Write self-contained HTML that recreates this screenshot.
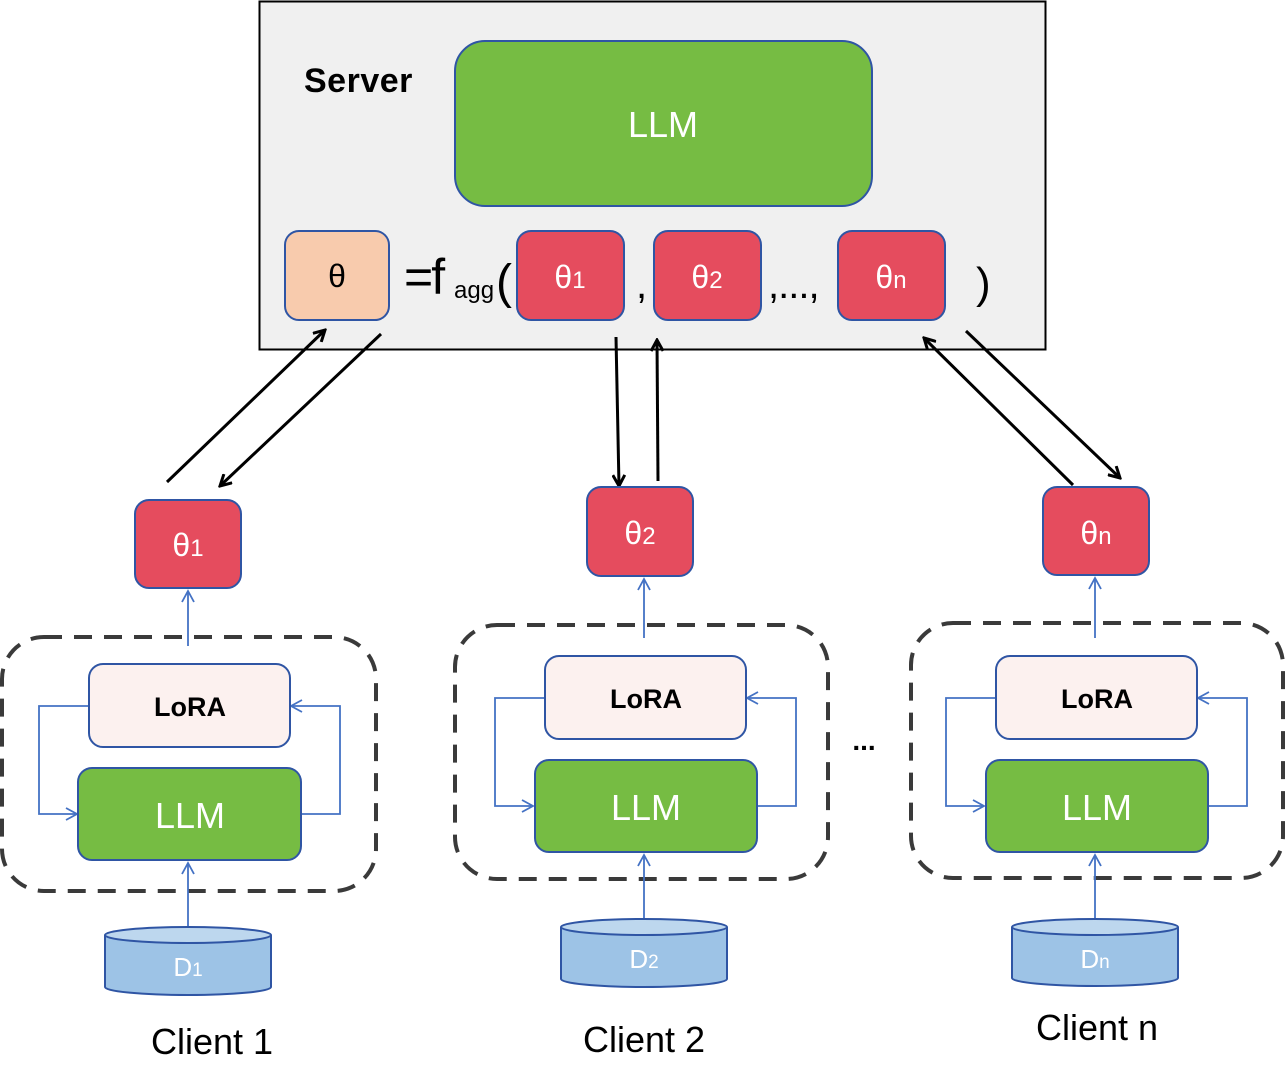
<!DOCTYPE html>
<html><head><meta charset="utf-8"><style>
html,body{margin:0;padding:0;background:#fff;}
svg{display:block;font-family:"Liberation Sans",Arial,sans-serif;}
</style></head><body>
<svg width="1286" height="1073" viewBox="0 0 1286 1073" xmlns="http://www.w3.org/2000/svg">
<defs>
<marker id="ak" markerWidth="14" markerHeight="14" refX="12" refY="7" orient="auto" markerUnits="userSpaceOnUse">
<polyline points="1,1 12,7 1,13" fill="none" stroke="#000" stroke-width="3"/></marker>
<marker id="ab" markerWidth="14" markerHeight="14" refX="12" refY="7" orient="auto" markerUnits="userSpaceOnUse">
<polyline points="1,1 12,7 1,13" fill="none" stroke="#4472c4" stroke-width="1.8"/></marker>
</defs>

<!-- Server -->
<rect x="259.5" y="1.5" width="786" height="348" fill="#f0f0f0" stroke="#000" stroke-width="2"/>
<text x="304" y="92" font-size="34" font-weight="bold" letter-spacing="0.5">Server</text>
<rect x="455" y="41" width="417" height="165" rx="30" fill="#76bc43" stroke="#2f55a4" stroke-width="2"/>
<text x="663" y="137" font-size="36" fill="#fff" text-anchor="middle">LLM</text>

<rect x="285" y="231" width="104" height="89" rx="14" fill="#f8cbad" stroke="#2f55a4" stroke-width="2"/>
<text x="337" y="287" font-size="32" text-anchor="middle">θ</text>
<text x="404" y="294" font-size="50" letter-spacing="-2">=f</text>
<text x="454" y="298" font-size="24">agg</text>
<text x="496" y="298" font-size="48">(</text>
<g fill="#e54c5e" stroke="#2f55a4" stroke-width="2">
<rect x="517" y="231" width="107" height="89" rx="14"/>
<rect x="654" y="231" width="107" height="89" rx="14"/>
<rect x="838" y="231" width="107" height="89" rx="14"/>
</g>
<g fill="#fff" font-size="32" text-anchor="middle">
<text x="570" y="288">θ<tspan font-size="24">1</tspan></text>
<text x="707" y="288">θ<tspan font-size="24">2</tspan></text>
<text x="891" y="288">θ<tspan font-size="24">n</tspan></text>
</g>
<text x="636" y="298" font-size="40">,</text>
<text x="768" y="298" font-size="40" letter-spacing="-1">,...,</text>
<text x="976" y="298" font-size="44">)</text>

<!-- black arrows -->
<g stroke="#000" stroke-width="3">
<line x1="167" y1="482" x2="325" y2="330" marker-end="url(#ak)"/>
<line x1="381" y1="334" x2="220" y2="486" marker-end="url(#ak)"/>
<line x1="616" y1="337" x2="619" y2="486" marker-end="url(#ak)"/>
<line x1="658" y1="481" x2="657" y2="340" marker-end="url(#ak)"/>
<line x1="1073" y1="485" x2="924" y2="338" marker-end="url(#ak)"/>
<line x1="966" y1="331" x2="1120" y2="478" marker-end="url(#ak)"/>
</g>

<!-- Client 1 -->
<g>
<rect x="135" y="500" width="106" height="88" rx="14" fill="#e54c5e" stroke="#2f55a4" stroke-width="2"/>
<text x="188" y="556" font-size="32" fill="#fff" text-anchor="middle">θ<tspan font-size="24">1</tspan></text>
<rect x="2" y="637" width="374" height="254" rx="42" fill="none" stroke="#3a3a3a" stroke-width="4" stroke-dasharray="18,12"/>
<line x1="188" y1="646" x2="188" y2="591" stroke="#4472c4" stroke-width="1.8" marker-end="url(#ab)"/>
<polyline points="89,706 39,706 39,814 77,814" fill="none" stroke="#4472c4" stroke-width="1.8" marker-end="url(#ab)"/>
<polyline points="301,814 340,814 340,706 291,706" fill="none" stroke="#4472c4" stroke-width="1.8" marker-end="url(#ab)"/>
<rect x="89" y="664" width="201" height="83" rx="14" fill="#fcf1ef" stroke="#2f55a4" stroke-width="2"/>
<text x="190" y="716" font-size="27" font-weight="bold" text-anchor="middle">LoRA</text>
<rect x="78" y="768" width="223" height="92" rx="14" fill="#76bc43" stroke="#2f55a4" stroke-width="2"/>
<text x="190" y="828" font-size="36" fill="#fff" text-anchor="middle">LLM</text>
<line x1="188" y1="927" x2="188" y2="863" stroke="#4472c4" stroke-width="1.8" marker-end="url(#ab)"/>
<path d="M105,935 L105,987 A83,8 0 0 0 271,987 L271,935" fill="#9dc3e6" stroke="#2f55a4" stroke-width="2"/>
<ellipse cx="188" cy="935" rx="83" ry="8" fill="#bdd7ee" stroke="#2f55a4" stroke-width="2"/>
<text x="188" y="976" font-size="26" fill="#fff" text-anchor="middle">D<tspan font-size="19">1</tspan></text>
<text x="212" y="1054" font-size="36" text-anchor="middle">Client 1</text>
</g>

<!-- Client 2 -->
<g>
<rect x="587" y="487" width="106" height="89" rx="14" fill="#e54c5e" stroke="#2f55a4" stroke-width="2"/>
<text x="640" y="544" font-size="32" fill="#fff" text-anchor="middle">θ<tspan font-size="24">2</tspan></text>
<rect x="455" y="625" width="373" height="254" rx="42" fill="none" stroke="#3a3a3a" stroke-width="4" stroke-dasharray="18,12"/>
<line x1="644" y1="638" x2="644" y2="579" stroke="#4472c4" stroke-width="1.8" marker-end="url(#ab)"/>
<polyline points="545,698 495,698 495,806 533,806" fill="none" stroke="#4472c4" stroke-width="1.8" marker-end="url(#ab)"/>
<polyline points="757,806 796,806 796,698 747,698" fill="none" stroke="#4472c4" stroke-width="1.8" marker-end="url(#ab)"/>
<rect x="545" y="656" width="201" height="83" rx="14" fill="#fcf1ef" stroke="#2f55a4" stroke-width="2"/>
<text x="646" y="708" font-size="27" font-weight="bold" text-anchor="middle">LoRA</text>
<rect x="535" y="760" width="222" height="92" rx="14" fill="#76bc43" stroke="#2f55a4" stroke-width="2"/>
<text x="646" y="820" font-size="36" fill="#fff" text-anchor="middle">LLM</text>
<line x1="644" y1="919" x2="644" y2="855" stroke="#4472c4" stroke-width="1.8" marker-end="url(#ab)"/>
<path d="M561,927 L561,979 A83,8 0 0 0 727,979 L727,927" fill="#9dc3e6" stroke="#2f55a4" stroke-width="2"/>
<ellipse cx="644" cy="927" rx="83" ry="8" fill="#bdd7ee" stroke="#2f55a4" stroke-width="2"/>
<text x="644" y="968" font-size="26" fill="#fff" text-anchor="middle">D<tspan font-size="19">2</tspan></text>
<text x="644" y="1052" font-size="36" text-anchor="middle">Client 2</text>
</g>

<text x="864" y="750" font-size="28" font-weight="bold" text-anchor="middle">...</text>

<!-- Client n -->
<g>
<rect x="1043" y="487" width="106" height="88" rx="14" fill="#e54c5e" stroke="#2f55a4" stroke-width="2"/>
<text x="1096" y="544" font-size="32" fill="#fff" text-anchor="middle">θ<tspan font-size="24">n</tspan></text>
<rect x="911" y="623" width="372" height="255" rx="42" fill="none" stroke="#3a3a3a" stroke-width="4" stroke-dasharray="18,12"/>
<line x1="1095" y1="638" x2="1095" y2="578" stroke="#4472c4" stroke-width="1.8" marker-end="url(#ab)"/>
<polyline points="996,698 946,698 946,806 984,806" fill="none" stroke="#4472c4" stroke-width="1.8" marker-end="url(#ab)"/>
<polyline points="1208,806 1247,806 1247,698 1198,698" fill="none" stroke="#4472c4" stroke-width="1.8" marker-end="url(#ab)"/>
<rect x="996" y="656" width="201" height="83" rx="14" fill="#fcf1ef" stroke="#2f55a4" stroke-width="2"/>
<text x="1097" y="708" font-size="27" font-weight="bold" text-anchor="middle">LoRA</text>
<rect x="986" y="760" width="222" height="92" rx="14" fill="#76bc43" stroke="#2f55a4" stroke-width="2"/>
<text x="1097" y="820" font-size="36" fill="#fff" text-anchor="middle">LLM</text>
<line x1="1095" y1="919" x2="1095" y2="855" stroke="#4472c4" stroke-width="1.8" marker-end="url(#ab)"/>
<path d="M1012,927 L1012,978 A83,8 0 0 0 1178,978 L1178,927" fill="#9dc3e6" stroke="#2f55a4" stroke-width="2"/>
<ellipse cx="1095" cy="927" rx="83" ry="8" fill="#bdd7ee" stroke="#2f55a4" stroke-width="2"/>
<text x="1095" y="968" font-size="26" fill="#fff" text-anchor="middle">D<tspan font-size="19">n</tspan></text>
<text x="1097" y="1040" font-size="36" text-anchor="middle">Client n</text>
</g>
</svg>
</body></html>
